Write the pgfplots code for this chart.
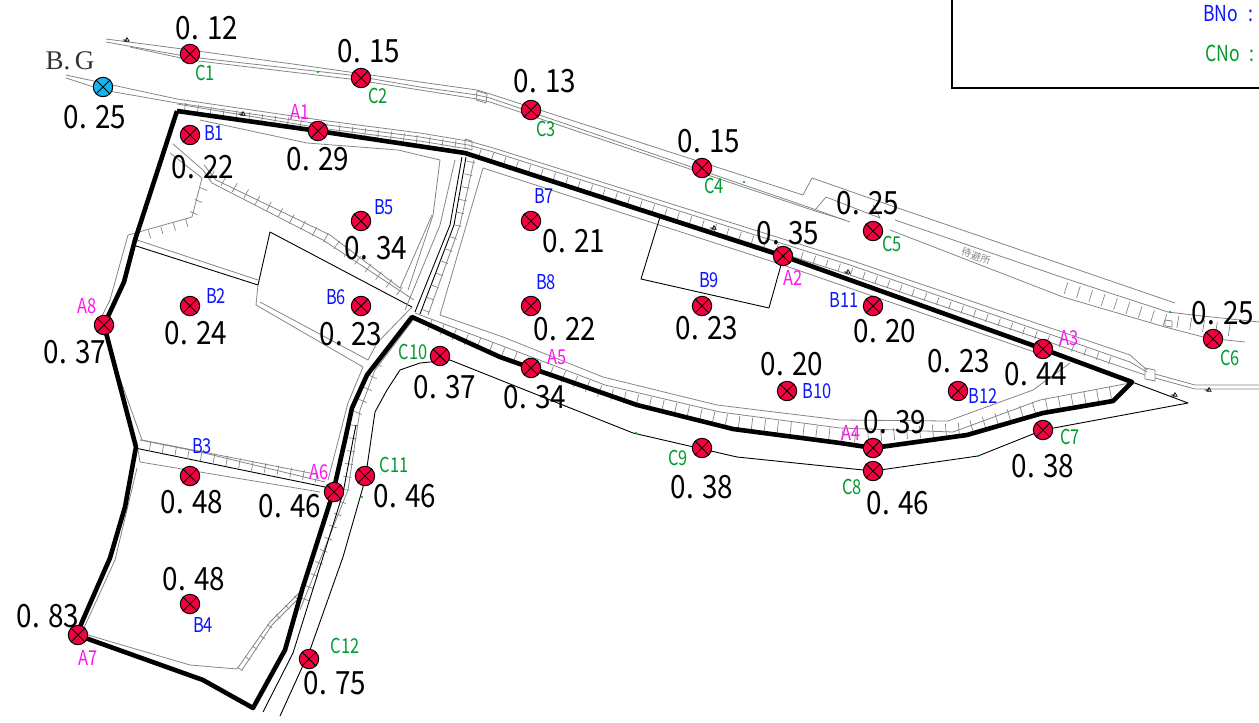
\documentclass[border=0pt]{standalone}
\usepackage{fontspec}
\usepackage{pgfplots}
\pgfplotsset{compat=1.18}
\usetikzlibrary{decorations.pathreplacing}
\newfontfamily\valfont[FakeStretch=0.87]{Noto Sans CJK JP}
\newfontfamily\lblfont[FakeStretch=0.80]{Noto Sans CJK JP}
\newfontfamily\jpfont{Noto Sans CJK JP}
\newfontfamily\bgfont{Liberation Serif}
\definecolor{ptred}{HTML}{F5003F}
\definecolor{ptblue}{HTML}{17B4EE}
\definecolor{cgreen}{HTML}{009A2E}
\definecolor{bblue}{HTML}{0A14FF}
\definecolor{amag}{HTML}{FF14F0}
\definecolor{mapgray}{HTML}{858585}
\pgfdeclareplotmark{meas}{%
  \pgfsetstrokecolor{black}\pgfsetlinewidth{1pt}%
  \pgfpathcircle{\pgfpointorigin}{\pgfplotmarksize}\pgfusepathqfillstroke
  \pgfpathmoveto{\pgfpointpolar{45}{\pgfplotmarksize}}\pgfpathlineto{\pgfpointpolar{225}{\pgfplotmarksize}}%
  \pgfpathmoveto{\pgfpointpolar{135}{\pgfplotmarksize}}\pgfpathlineto{\pgfpointpolar{315}{\pgfplotmarksize}}%
  \pgfusepathqstroke}
\pgfdeclareplotmark{tick3}{%
  \pgfsetstrokecolor{black}\pgfsetlinewidth{0.6pt}%
  \pgfpathmoveto{\pgfpointpolar{90}{\pgfplotmarksize}}\pgfpathlineto{\pgfpointpolar{330}{\pgfplotmarksize}}%
  \pgfpathlineto{\pgfpointpolar{210}{\pgfplotmarksize}}\pgfpathclose
  \pgfpathmoveto{\pgfpointorigin}\pgfpathlineto{\pgfpointpolar{180}{1.8\pgfplotmarksize}}%
  \pgfusepathqstroke}
\newcommand\val[3]{\node[inner sep=0pt,black] at (axis cs:#1+1,#2) {\valfont\fontsize{32}{32}\selectfont 0. #3};}
\newcommand\lbl[4]{\node[inner sep=0pt,text=#4] at (axis cs:#1,#2) {\lblfont\fontsize{20.5}{20.5}\selectfont #3};}
\begin{document}
\begin{tikzpicture}
\useasboundingbox (0,0) rectangle (1259pt,723pt);
\begin{axis}[
  at={(0,0)},anchor=south west,
  scale only axis,width=1259pt,height=723pt,
  xmin=0,xmax=1259,ymin=0,ymax=723,y dir=reverse,
  hide axis,
  gl/.style={mapgray,line width=0.8pt,line join=round},
  bl/.style={black,line width=0.9pt,line join=round},
  hatch/.style={mapgray,line width=0.7pt,decorate,decoration={ticks,segment length=13pt,amplitude=#1}},
  hatch/.default=4pt,
]
% road along C1-C5
\addplot[gl] coordinates {(106,39)(190,50)(300,65)(420,82)(477,90)(487,93)(803,195)(812,178)(895,207)(1175,303)};
\addplot[gl] coordinates {(106,42)(190,57)(350,75)(420,87)(477,95)(490,98)(808,207)(850,222)};
\addplot[gl] coordinates {(130,47)(190,60)(350,79)(420,90)(477,99)(490,102)(815,211)(845,220)};
\addplot[gl] coordinates {(477,91)(487,94)(486,103)(476,100)(477,91)};
\addplot[gl] coordinates {(895,220)(1067,279)(1168,312)(1193,315)(1259,322)};
\addplot[gl] coordinates {(890,230)(1063,297)(1165,327)(1207,338)(1245,342)};
\addplot[hatch=6pt] coordinates {(1066,288)(1165,320)(1230,330)};
\addplot[gl] coordinates {(1165,320)(1172,321)(1172,327)(1165,326)(1165,320)};
\addplot[gl] coordinates {(815,210)(826,197)(880,218)(873,205)};
% road along B.G and north bank
\addplot[gl] coordinates {(66,75)(103,83)(177,99)(320,120)(420,133)(468,141)(490,147)(850,260)(1130,355)(1147,370)};
\addplot[gl] coordinates {(66,78)(103,90)(177,103)(320,124)(420,137)(468,145)(490,151)(850,265)(1130,362)(1147,372)};
\addplot[gl] coordinates {(177,104)(320,128)(420,141)(468,149)};
\addplot[gl] coordinates {(465,139)(472,141)(472,150)(465,148)(465,139)};
\addplot[hatch=4pt] coordinates {(185,107)(320,126)(462,145)};
\addplot[gl] coordinates {(475,155)(850,275)(1043,340)(1145,375)};
\addplot[hatch=4pt] coordinates {(480,153)(850,271)(1120,364)};
\addplot[gl] coordinates {(1145,368)(1155,370)(1155,381)(1145,379)(1145,368)};
\addplot[gl] coordinates {(1155,374)(1195,385)(1259,385)};
\addplot[gl] coordinates {(1155,378)(1195,389)(1259,389)};
% west fields
\addplot[gl] coordinates {(200,120)(307,143)(398,150)(440,160)(433,215)(408,290)};
\addplot[gl] coordinates {(173,144)(203,170)(212,183)(323,240)(414,300)};
\addplot[gl] coordinates {(170,153)(202,178)(192,217)(128,235)(110,300)(100,320)};
\addplot[gl] coordinates {(204,165)(216,180)(330,235)(400,288)(432,215)};
\addplot[hatch=5pt] coordinates {(212,175)(330,240)(402,293)};
\addplot[hatch=4pt] coordinates {(137,238)(190,222)(205,185)};
\addplot[bl] coordinates {(133,245)(258,285)(270,232)(412,307)};
\addplot[gl] coordinates {(137,240)(258,280)};
\addplot[gl] coordinates {(258,285)(256,305)(363,367)(348,403)(328,480)};
\addplot[gl] coordinates {(260,302)(368,360)(377,343)(412,307)};
\addplot[gl] coordinates {(105,335)(118,373)(142,440)(310,473)};
\addplot[bl] coordinates {(135,448)(325,487)};
\addplot[gl] coordinates {(140,440)(200,452)(325,482)};
\addplot[hatch=5pt] coordinates {(150,447)(320,478)};
\addplot[gl] coordinates {(138,450)(140,462)(320,492)};
\addplot[gl] coordinates {(137,468)(115,560)(83,630)};
\addplot[gl] coordinates {(88,635)(190,665)(237,669)(270,622)(300,592)};
\addplot[gl] coordinates {(242,670)(272,625)(297,600)};
\addplot[hatch=3pt] coordinates {(240,669)(272,623)(298,596)};
% central road
\addplot[gl] coordinates {(455,160)(440,225)(405,310)};
\addplot[bl] coordinates {(462,157)(450,225)(415,312)};
\addplot[bl] coordinates {(466,157)(454,225)(420,314)};
\addplot[gl] coordinates {(474,160)(460,225)(428,315)};
\addplot[hatch=4pt] coordinates {(471,162)(457,228)(425,312)};
\addplot[gl] coordinates {(413,320)(375,370)(360,410)(348,490)(300,610)};
\addplot[hatch=4pt] coordinates {(378,365)(355,420)(345,495)(305,600)};
% east field
\addplot[gl] coordinates {(440,315)(483,168)(783,265)(1043,355)};
\addplot[gl] coordinates {(440,315)(503,337)(603,377)(717,405)(840,420)(948,421)(1033,390)(1070,363)};
\addplot[gl] coordinates {(415,313)(500,345)(605,385)(720,412)(840,428)(953,432)(1040,400)(1130,383)};
\addplot[hatch=6pt] coordinates {(430,325)(500,352)(605,393)(730,421)(860,437)(965,428)(1043,405)(1115,392)};
\addplot[bl] coordinates {(660,217)(641,279)(769,308)(781,265)};
% thin black road lines of the C series
\addplot[bl] coordinates {(1132,382)(1188,403)(1043,430)(978,456)(873,471)(737,457)(633,433)(450,360)(420,363)(400,370)(387,390)(375,412)(367,467)(363,487)(343,557)(310,650)(280,716)};
\addplot[bl] coordinates {(356,425)(353,440)(343,493)(293,653)(263,712)};
% thick boundary
\addplot[black,line width=4.6pt,line join=round] coordinates {(177,111)(318,131)(465,153)(783,256)(1043,349)(1132,382)(1113,401)(1043,413)(967,435)(873,448)(840,443)(733,429)(637,405)(531,368)(500,357)(412,317)(367,375)(352,408)(345,440)(333,493)(302,590)(285,650)(253,708)(203,680)(77,635)(82,622)(110,558)(125,507)(136,447)(104,325)(124,282)(135,240)(177,111)};
% frame at the top right
\addplot[black,line width=1.6pt] coordinates {(952,0)(952,88)(1259,88)};
% small survey symbols and dots
\addplot[only marks,mark=tick3,mark size=2.5pt] coordinates {(127,40)(243,114)(714,228)(848,272)(1175,395)(1209,390)};
\addplot[only marks,mark=*,mark size=0.8pt,mark options={green!70!black,draw=none}] coordinates {(318,72)(744,182)(636,433)(978,456)(362,497)(1170,312)};
% measuring points
\addplot[only marks,mark=meas,mark size=9.7pt,mark options={fill=ptblue}] coordinates {(103,87)};
\addplot[only marks,mark=meas,mark size=9.7pt,mark options={fill=ptred}] coordinates {
(190,54)(361,78)(531,110)(702,168)(873,231)(1213,339)(1043,430)(873,471)(702,448)(440,356)(365,476)(309,659)
(318,131)(783,256)(1043,349)(873,448)(531,368)(334,492)(78,635)(104,325)
(190,135)(190,306)(190,476)(190,604)(361,221)(361,306)(531,221)(531,306)(702,306)(787,391)(873,306)(958,391)};
% values
\val{94}{117}{25}
\val{206}{28}{12}\val{368}{51}{15}\val{544}{81}{13}\val{708}{141}{15}\val{867}{203}{25}\val{1222}{313}{25}
\val{1042}{466}{38}\val{897}{503}{46}\val{701}{487}{38}\val{444}{387}{37}\val{404}{496}{46}\val{334}{683}{75}
\val{317}{159}{29}\val{787}{233}{35}\val{1035}{374}{44}\val{894}{422}{39}\val{534}{397}{34}\val{289}{506}{46}\val{47}{616}{83}\val{74}{352}{37}
\val{202}{167}{22}\val{195}{333}{24}\val{191}{502}{48}\val{193}{579}{48}\val{375}{248}{34}\val{350}{334}{23}
\val{573}{241}{21}\val{564}{329}{22}\val{706}{328}{23}\val{791}{364}{20}\val{884}{331}{20}\val{958}{361}{23}
% point names
\lbl{205}{73}{C1}{cgreen}\lbl{378}{96}{C2}{cgreen}\lbl{546}{129}{C3}{cgreen}\lbl{714}{186}{C4}{cgreen}\lbl{892}{244}{C5}{cgreen}\lbl{1230}{358}{C6}{cgreen}
\lbl{1070}{437}{C7}{cgreen}\lbl{852}{487}{C8}{cgreen}\lbl{678}{458}{C9}{cgreen}\lbl{413}{352}{C10}{cgreen}\lbl{394}{465}{C11}{cgreen}\lbl{345}{646}{C12}{cgreen}
\lbl{300}{112}{A1}{amag}\lbl{793}{278}{A2}{amag}\lbl{1069}{338}{A3}{amag}\lbl{851}{433}{A4}{amag}\lbl{557}{357}{A5}{amag}\lbl{319}{472}{A6}{amag}\lbl{88}{658}{A7}{amag}\lbl{87}{306}{A8}{amag}
\lbl{214}{133}{B1}{bblue}\lbl{216}{296}{B2}{bblue}\lbl{202}{446}{B3}{bblue}\lbl{203}{625}{B4}{bblue}\lbl{384}{207}{B5}{bblue}\lbl{336}{297}{B6}{bblue}
\lbl{544}{196}{B7}{bblue}\lbl{546}{282}{B8}{bblue}\lbl{709}{280}{B9}{bblue}\lbl{817}{391}{B10}{bblue}\lbl{844}{300}{B11}{bblue}\lbl{983}{396}{B12}{bblue}
\node[inner sep=0pt,text=black!80] at (axis cs:70,61) {\bgfont\fontsize{27}{27}\selectfont B.\,G};
\node[inner sep=0pt,anchor=west,text=bblue] at (axis cs:1203,14) {\lblfont\fontsize{22}{22}\selectfont BNo\hspace{10pt}:};
\node[inner sep=0pt,anchor=west,text=cgreen] at (axis cs:1205,53) {\lblfont\fontsize{22}{22}\selectfont CNo\hspace{10pt}:};
\node[inner sep=0pt,rotate=-18,text=mapgray] at (axis cs:976,256) {\jpfont\fontsize{10}{10}\selectfont 待避所};
\end{axis}
\end{tikzpicture}
\end{document}
